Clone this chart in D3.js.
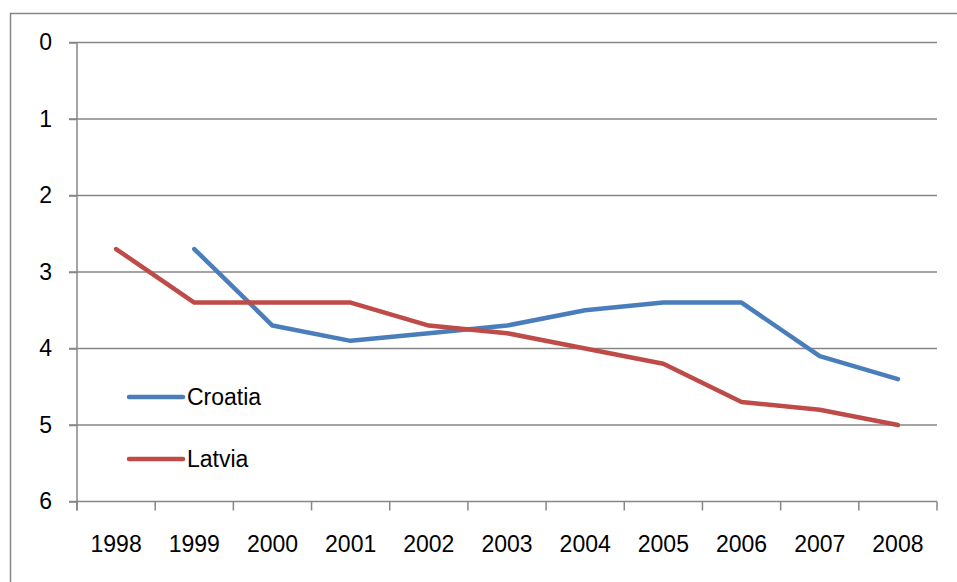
<!DOCTYPE html>
<html lang="en">
<head>
<meta charset="utf-8">
<title>Croatia and Latvia</title>
<style>
  body { margin: 0; background: #fff; }
  text { font-family: "Liberation Sans", Arial, sans-serif; font-size: 23px; fill: #000; }
  .axis path, .axis line { stroke: #868686; stroke-width: 1.5px; }
  .grid line { stroke: #868686; stroke-width: 1.5px; }
</style>
</head>
<body>
<script src="https://cdnjs.cloudflare.com/ajax/libs/d3/7.8.5/d3.min.js"></script>
<script>
// chart data
const years = ["1998", "1999", "2000", "2001", "2002", "2003", "2004", "2005", "2006", "2007", "2008"];
const croatia = [null, 2.7, 3.7, 3.9, 3.8, 3.7, 3.5, 3.4, 3.4, 4.1, 4.4];
const latvia = [2.7, 3.4, 3.4, 3.4, 3.7, 3.8, 4.0, 4.2, 4.7, 4.8, 5.0];
const yTicks = [0, 1, 2, 3, 4, 5, 6];
const seriesNames = ["Croatia", "Latvia"];
const seriesColors = ["#4A7EBB", "#BE4B48"];

const width = 957, height = 582;
const plotLeft = 77, plotRight = 937, plotTop = 42.5, plotBottom = 501.5;

const svg = d3.select("body").append("svg")
  .attr("width", width)
  .attr("height", height);

// outer chart frame (runs off the right and bottom edge)
svg.append("rect")
  .attr("x", 10.5).attr("y", 13.5)
  .attr("width", 1000).attr("height", 1000)
  .attr("fill", "none")
  .attr("stroke", "#868686")
  .attr("stroke-width", 1.5);

const x = d3.scaleBand().domain(years).range([plotLeft, plotRight]).padding(0);
const y = d3.scaleLinear().domain([0, 6]).range([plotTop, plotBottom]);

// horizontal gridlines
svg.append("g").attr("class", "grid")
  .selectAll("line")
  .data(yTicks)
  .enter().append("line")
  .attr("x1", plotLeft - 8).attr("x2", plotRight)
  .attr("y1", d => y(d)).attr("y2", d => y(d));

// y axis
const yAxis = d3.axisLeft(y).tickValues(yTicks).tickFormat(d3.format("d"))
  .tickSize(8).tickSizeOuter(0).tickPadding(17);
const gy = svg.append("g").attr("class", "axis")
  .attr("transform", "translate(" + plotLeft + ",0)")
  .call(yAxis);
gy.select(".domain").attr("d", "M0," + plotTop + "V" + (plotBottom + 9));

// x axis: labels centred in each category, ticks between categories
const xAxis = d3.axisBottom(x).tickSize(0).tickPadding(34);
const gx = svg.append("g").attr("class", "axis")
  .attr("transform", "translate(0," + plotBottom + ")")
  .call(xAxis);
gx.select(".domain").remove();

const bounds = years.map(d => x(d)).concat([x(years[years.length - 1]) + x.bandwidth()]);
svg.append("g").attr("class", "grid")
  .selectAll("line")
  .data(bounds)
  .enter().append("line")
  .attr("x1", d => d).attr("x2", d => d)
  .attr("y1", plotBottom).attr("y2", plotBottom + 9);

// lines
const line = d3.line()
  .defined(d => d.v !== null)
  .x(d => x(d.year) + x.bandwidth() / 2)
  .y(d => y(d.v));

[croatia, latvia].forEach(function(values, i) {
  const pts = years.map((yr, j) => ({ year: yr, v: values[j] }));
  svg.append("path")
    .datum(pts)
    .attr("d", line)
    .attr("fill", "none")
    .attr("stroke", seriesColors[i])
    .attr("stroke-width", 4.5)
    .attr("stroke-linecap", "round")
    .attr("stroke-linejoin", "round");
});

// legend inside the plot
const legend = svg.append("g")
  .selectAll("g")
  .data(seriesNames)
  .enter().append("g")
  .attr("transform", (d, i) => "translate(129," + (397 + i * 62) + ")");

legend.append("line")
  .attr("x1", 0).attr("x2", 54)
  .attr("stroke", (d, i) => seriesColors[i])
  .attr("stroke-width", 4.5)
  .attr("stroke-linecap", "round");

legend.append("text")
  .attr("x", 58).attr("dy", "0.36em")
  .text(d => d);
</script>
</body>
</html>
